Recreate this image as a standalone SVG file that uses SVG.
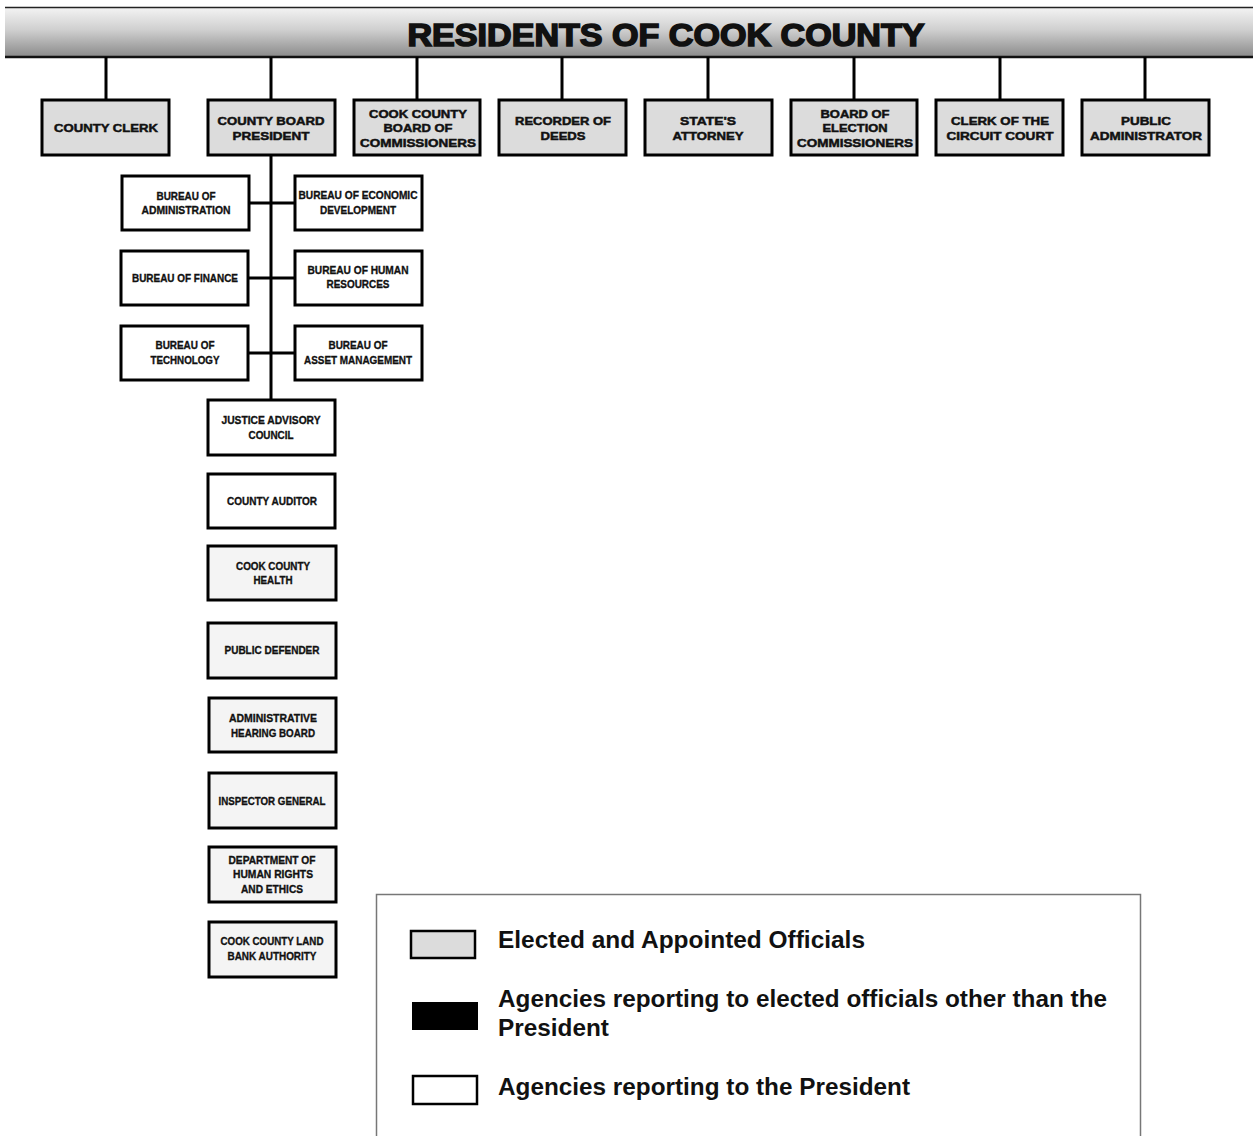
<svg xmlns="http://www.w3.org/2000/svg" width="1253" height="1136" viewBox="0 0 1253 1136">
<defs>
<linearGradient id="bar" x1="0" y1="0" x2="0" y2="1">
<stop offset="0" stop-color="#f4f4f4"/>
<stop offset="0.45" stop-color="#d0d0d0"/>
<stop offset="1" stop-color="#8a8a8a"/>
</linearGradient>
<style>
.off{fill:#dcdcdc;stroke:#000;stroke-width:3}
.ag{fill:#fff;stroke:#000;stroke-width:3}
.ag2{fill:#f4f4f4;stroke:#000;stroke-width:3}
.t{font-family:"Liberation Sans",Arial,sans-serif;font-weight:bold;font-size:11.5px;text-anchor:middle;fill:#111;stroke:#111;stroke-width:0.5}
.n{font-family:"Liberation Sans Narrow","Liberation Sans",Arial,sans-serif;font-weight:bold;font-size:11.5px;text-anchor:middle;fill:#111;stroke:#111;stroke-width:0.35}
.c{stroke:#000;stroke-width:3;fill:none}
.lg{font-family:"Liberation Sans Narrow","Liberation Sans",Arial,sans-serif;font-weight:bold;font-size:23px;fill:#111}
</style>
</defs>
<rect width="1253" height="1136" fill="#fff"/>
<g id="residents">
<rect x="5" y="7" width="1250" height="50" fill="url(#bar)"/>
<line x1="5" y1="7.5" x2="1253" y2="7.5" stroke="#222" stroke-width="1.5"/>
<line x1="5" y1="57" x2="1253" y2="57" stroke="#111" stroke-width="2.5"/>
<text x="666" y="46" font-family="'Liberation Sans',Arial,sans-serif" font-weight="bold" font-size="31" text-anchor="middle" textLength="517" lengthAdjust="spacingAndGlyphs" fill="#111" stroke="#111" stroke-width="1.6">RESIDENTS OF COOK COUNTY</text>
</g>
<g id="connectors">
<path class="c" d="M106 57V100M271 57V100M417 57V100M562 57V100M708 57V100M854 57V100M1000 57V100M1145 57V100"/>
<path class="c" d="M271 155V400M249 203H295M248 278H295M248 353H295"/>
</g>
<g id="county-clerk"><rect class="off" x="42" y="100" width="127" height="55"/><text class="t" x="106" y="132" textLength="104" lengthAdjust="spacingAndGlyphs">COUNTY CLERK</text></g>
<g id="county-board-president"><rect class="off" x="208" y="100" width="127" height="55"/><text class="t" x="271" y="125" textLength="107" lengthAdjust="spacingAndGlyphs">COUNTY BOARD</text><text class="t" x="271" y="140" textLength="77" lengthAdjust="spacingAndGlyphs">PRESIDENT</text></g>
<g id="board-of-commissioners"><rect class="off" x="354" y="100" width="126" height="55"/><text class="t" x="418" y="118" textLength="98" lengthAdjust="spacingAndGlyphs">COOK COUNTY</text><text class="t" x="418" y="132" textLength="69" lengthAdjust="spacingAndGlyphs">BOARD OF</text><text class="t" x="418" y="147" textLength="116" lengthAdjust="spacingAndGlyphs">COMMISSIONERS</text></g>
<g id="recorder-of-deeds"><rect class="off" x="499" y="100" width="127" height="55"/><text class="t" x="563" y="125" textLength="96" lengthAdjust="spacingAndGlyphs">RECORDER OF</text><text class="t" x="563" y="140" textLength="45" lengthAdjust="spacingAndGlyphs">DEEDS</text></g>
<g id="states-attorney"><rect class="off" x="645" y="100" width="127" height="55"/><text class="t" x="708" y="125" textLength="56" lengthAdjust="spacingAndGlyphs">STATE'S</text><text class="t" x="708" y="140" textLength="71" lengthAdjust="spacingAndGlyphs">ATTORNEY</text></g>
<g id="board-of-election"><rect class="off" x="791" y="100" width="126" height="55"/><text class="t" x="855" y="118" textLength="69" lengthAdjust="spacingAndGlyphs">BOARD OF</text><text class="t" x="855" y="132" textLength="65" lengthAdjust="spacingAndGlyphs">ELECTION</text><text class="t" x="855" y="147" textLength="116" lengthAdjust="spacingAndGlyphs">COMMISSIONERS</text></g>
<g id="clerk-circuit-court"><rect class="off" x="936" y="100" width="127" height="55"/><text class="t" x="1000" y="125" textLength="98" lengthAdjust="spacingAndGlyphs">CLERK OF THE</text><text class="t" x="1000" y="140" textLength="107" lengthAdjust="spacingAndGlyphs">CIRCUIT COURT</text></g>
<g id="public-administrator"><rect class="off" x="1082" y="100" width="127" height="55"/><text class="t" x="1146" y="125" textLength="50" lengthAdjust="spacingAndGlyphs">PUBLIC</text><text class="t" x="1146" y="140" textLength="112" lengthAdjust="spacingAndGlyphs">ADMINISTRATOR</text></g>

<g id="bureau-administration"><rect class="ag" x="122" y="176" width="127" height="54"/><text class="n" x="186" y="200" textLength="59" lengthAdjust="spacingAndGlyphs">BUREAU OF</text><text class="n" x="186" y="214" textLength="89" lengthAdjust="spacingAndGlyphs">ADMINISTRATION</text></g>
<g id="bureau-economic-development"><rect class="ag" x="295" y="176" width="127" height="54"/><text class="n" x="358" y="199" textLength="119" lengthAdjust="spacingAndGlyphs">BUREAU OF ECONOMIC</text><text class="n" x="358" y="214" textLength="76" lengthAdjust="spacingAndGlyphs">DEVELOPMENT</text></g>
<g id="bureau-finance"><rect class="ag" x="121" y="251" width="127" height="54"/><text class="n" x="185" y="282" textLength="106" lengthAdjust="spacingAndGlyphs">BUREAU OF FINANCE</text></g>
<g id="bureau-human-resources"><rect class="ag" x="295" y="251" width="127" height="54"/><text class="n" x="358" y="274" textLength="101" lengthAdjust="spacingAndGlyphs">BUREAU OF HUMAN</text><text class="n" x="358" y="288" textLength="63" lengthAdjust="spacingAndGlyphs">RESOURCES</text></g>
<g id="bureau-technology"><rect class="ag" x="121" y="326" width="127" height="54"/><text class="n" x="185" y="349" textLength="59" lengthAdjust="spacingAndGlyphs">BUREAU OF</text><text class="n" x="185" y="364" textLength="69" lengthAdjust="spacingAndGlyphs">TECHNOLOGY</text></g>
<g id="bureau-asset-management"><rect class="ag" x="295" y="326" width="127" height="54"/><text class="n" x="358" y="349" textLength="59" lengthAdjust="spacingAndGlyphs">BUREAU OF</text><text class="n" x="358" y="364" textLength="108" lengthAdjust="spacingAndGlyphs">ASSET MANAGEMENT</text></g>

<g id="justice-advisory-council"><rect class="ag" x="208" y="400" width="127" height="55"/><text class="n" x="271" y="424" textLength="99" lengthAdjust="spacingAndGlyphs">JUSTICE ADVISORY</text><text class="n" x="271" y="439" textLength="45" lengthAdjust="spacingAndGlyphs">COUNCIL</text></g>
<g id="county-auditor"><rect class="ag" x="208" y="474" width="127" height="54"/><text class="n" x="272" y="505" textLength="90" lengthAdjust="spacingAndGlyphs">COUNTY AUDITOR</text></g>
<g id="cook-county-health"><rect class="ag2" x="208" y="546" width="128" height="54"/><text class="n" x="273" y="570" textLength="74" lengthAdjust="spacingAndGlyphs">COOK COUNTY</text><text class="n" x="273" y="584" textLength="39" lengthAdjust="spacingAndGlyphs">HEALTH</text></g>
<g id="public-defender"><rect class="ag2" x="208" y="623" width="128" height="55"/><text class="n" x="272" y="654" textLength="95" lengthAdjust="spacingAndGlyphs">PUBLIC DEFENDER</text></g>
<g id="administrative-hearing-board"><rect class="ag2" x="209" y="698" width="127" height="54"/><text class="n" x="273" y="722" textLength="88" lengthAdjust="spacingAndGlyphs">ADMINISTRATIVE</text><text class="n" x="273" y="737" textLength="84" lengthAdjust="spacingAndGlyphs">HEARING BOARD</text></g>
<g id="inspector-general"><rect class="ag2" x="209" y="773" width="127" height="55"/><text class="n" x="272" y="805" textLength="107" lengthAdjust="spacingAndGlyphs">INSPECTOR GENERAL</text></g>
<g id="human-rights-ethics"><rect class="ag2" x="209" y="847" width="127" height="55"/><text class="n" x="272" y="864" textLength="87" lengthAdjust="spacingAndGlyphs">DEPARTMENT OF</text><text class="n" x="273" y="878" textLength="80" lengthAdjust="spacingAndGlyphs">HUMAN RIGHTS</text><text class="n" x="272" y="893" textLength="62" lengthAdjust="spacingAndGlyphs">AND ETHICS</text></g>
<g id="land-bank-authority"><rect class="ag2" x="209" y="922" width="127" height="55"/><text class="n" x="272" y="945" textLength="103" lengthAdjust="spacingAndGlyphs">COOK COUNTY LAND</text><text class="n" x="272" y="960" textLength="89" lengthAdjust="spacingAndGlyphs">BANK AUTHORITY</text></g>

<g id="legend">
<rect x="376.5" y="894.5" width="764" height="250" fill="#fff" stroke="#777" stroke-width="1.5"/>
<rect x="411" y="931" width="64" height="27" fill="#dcdcdc" stroke="#000" stroke-width="2.5"/>
<rect x="412" y="1002" width="66" height="28" fill="#000"/>
<rect x="413" y="1076" width="64" height="28" fill="#fff" stroke="#000" stroke-width="2.5"/>
<text class="lg" x="498" y="948" textLength="367" lengthAdjust="spacingAndGlyphs">Elected and Appointed Officials</text>
<text class="lg" x="498" y="1007" textLength="609" lengthAdjust="spacingAndGlyphs">Agencies reporting to elected officials other than the</text>
<text class="lg" x="498" y="1036" textLength="111" lengthAdjust="spacingAndGlyphs">President</text>
<text class="lg" x="498" y="1095" textLength="412" lengthAdjust="spacingAndGlyphs">Agencies reporting to the President</text>
</g>
</svg>
